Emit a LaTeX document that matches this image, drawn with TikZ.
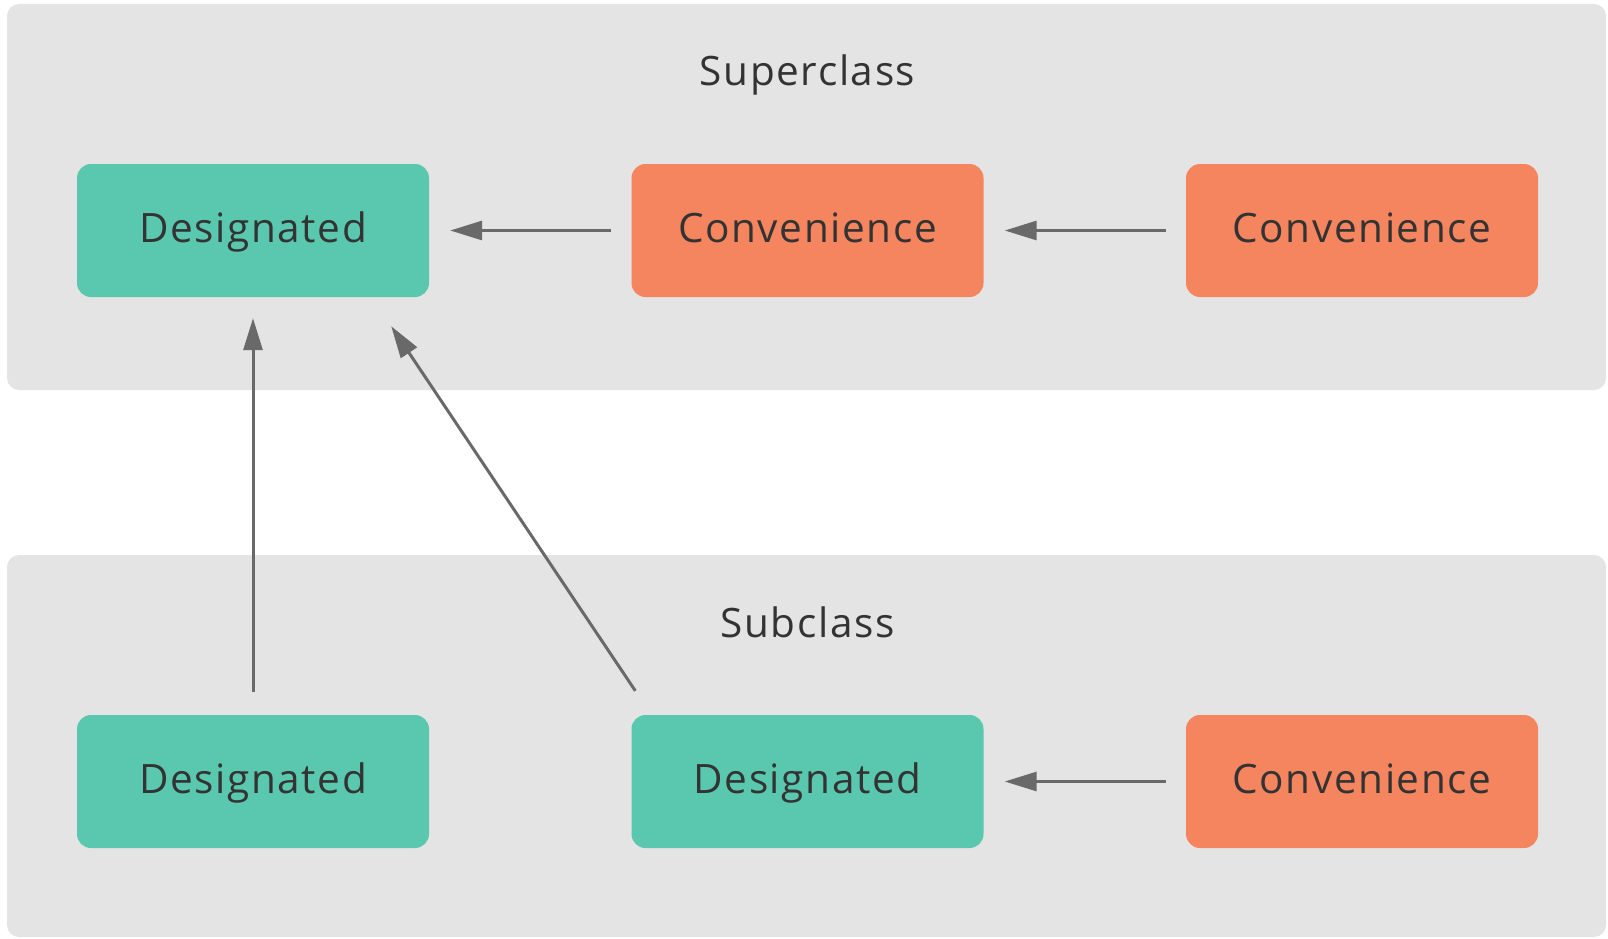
\documentclass[tikz,border=0pt]{standalone}
\usepackage{fontspec}
\setmainfont{Open Sans}[LetterSpace=4]
\usetikzlibrary{arrows.meta, positioning, calc}
\definecolor{panelgray}{RGB}{228, 228, 228}
\definecolor{desigteal}{RGB}{90, 200, 175}
\definecolor{convorange}{RGB}{245, 133, 95}
\definecolor{edgegray}{RGB}{105, 105, 105}
\definecolor{textdark}{RGB}{51, 51, 51}

\begin{document}
\begin{tikzpicture}[
    x=1pt, y=-1pt,
    panel/.style={fill=panelgray, rounded corners=12pt},
    box/.style={rectangle, rounded corners=14pt, minimum width=352pt, minimum height=133pt, inner sep=0pt,
        text height=30pt, text depth=7pt, text=textdark, font=\fontsize{40.5}{48}\selectfont},
    desig/.style={box, fill=desigteal},
    conv/.style={box, fill=convorange},
    title/.style={anchor=base, text=textdark, font=\fontsize{40.5}{48}\selectfont},
    edge/.style={line width=3pt, edgegray, -{Triangle[length=32pt, width=19pt]}, shorten <=20pt, shorten >=21pt}
]
\useasboundingbox (0,0) rectangle (1608,939);

% Superclass (top)
\fill[panel] (7,4) rectangle (1606,390);
\node[title] (suptitle) at (807.5,86) {Superclass};
\node[desig] (d1) at (253,230.5) {Designated};
\node[conv] (c1) at (807.5,230.5) {Convenience};
\node[conv] (c2) at (1362,230.5) {Convenience};

% Subclass (bottom)
\fill[panel] (7,555) rectangle (1606,937);
\node[title] (subtitle) at (807.5,637) {Subclass};
\node[desig] (d2) at (253,781.5) {Designated};
\node[desig] (d3) at (807.5,781.5) {Designated};
\node[conv] (c3) at (1362,781.5) {Convenience};

% Arrows
\draw[edge] (c1) -- (d1);
\draw[edge] (c2) -- (c1);
\draw[edge] (c3) -- (d3);
\draw[edge, shorten <=23pt] (d2) -- (d1);
\draw[edge, shorten <=0pt, shorten >=0pt] ($(d3.north west)+(4,-24)$) -- ($(d1.south east)+(-38,29)$);

\end{tikzpicture}
\end{document}
